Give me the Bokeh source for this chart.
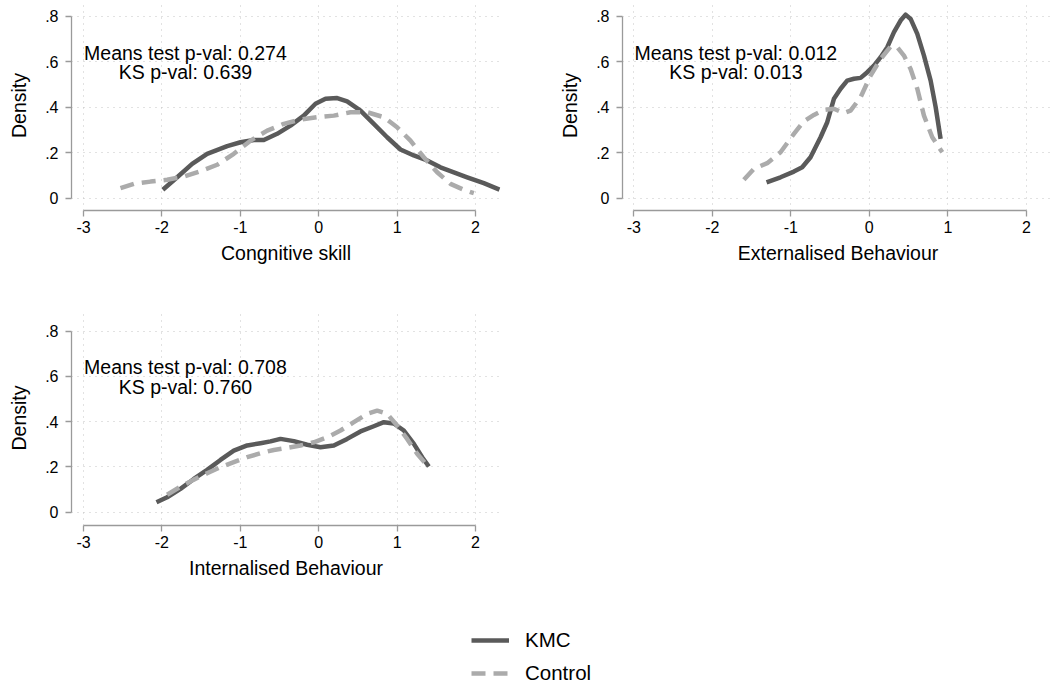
from bokeh.plotting import figure
from bokeh.layouts import column, row
from bokeh.models import FixedTicker, Label, Legend, LegendItem, Range1d
from bokeh.embed import file_html
from bokeh.resources import INLINE

FONT = "Liberation Sans"

# ---------------- data ----------------
x_ticks = [-3, -2, -1, 0, 1, 2]
x_tick_labels = ["-3", "-2", "-1", "0", "1", "2"]
y_ticks = [0, 0.2, 0.4, 0.6, 0.8]
y_tick_labels = ["0", ".2", ".4", ".6", ".8"]

series_names = ["KMC", "Control"]
panel_titles = ["Congnitive skill", "Externalised Behaviour", "Internalised Behaviour"]
means_pvals = ["0.274", "0.012", "0.708"]
ks_pvals = ["0.639", "0.013", "0.760"]

cog_kmc_x = [-1.988, -1.805, -1.614, -1.423, -1.167, -0.997, -0.827, -0.70, -0.53, -0.36, -0.19, -0.041,
             0.087, 0.236, 0.363, 0.533, 0.703, 0.873, 1.043, 1.213, 1.383, 1.553, 1.724, 1.894, 2.106, 2.306]
cog_kmc_y = [0.037, 0.092, 0.151, 0.195, 0.229, 0.246, 0.256, 0.256, 0.283, 0.319, 0.363, 0.415,
             0.437, 0.440, 0.426, 0.385, 0.327, 0.268, 0.214, 0.188, 0.166, 0.136, 0.114, 0.092, 0.066, 0.038]
cog_ctl_x = [-2.528, -2.358, -2.145, -1.933, -1.720, -1.508, -1.295, -1.083, -0.870, -0.657, -0.445, -0.232,
             -0.020, 0.193, 0.406, 0.618, 0.831, 1.0, 1.171, 1.341, 1.511, 1.681, 1.851, 1.979]
cog_ctl_y = [0.044, 0.063, 0.073, 0.081, 0.095, 0.119, 0.147, 0.195, 0.253, 0.297, 0.327, 0.346,
             0.356, 0.363, 0.378, 0.378, 0.356, 0.312, 0.253, 0.180, 0.114, 0.063, 0.037, 0.022]

ext_kmc_x = [-1.309, -1.131, -0.961, -0.855, -0.749, -0.621, -0.536, -0.451, -0.366, -0.282, -0.196, -0.111,
             -0.026, 0.059, 0.144, 0.229, 0.314, 0.398, 0.462, 0.526, 0.611, 0.696, 0.781, 0.845, 0.908]
ext_kmc_y = [0.070, 0.092, 0.117, 0.136, 0.180, 0.268, 0.334, 0.437, 0.481, 0.517, 0.525, 0.529,
             0.554, 0.583, 0.620, 0.664, 0.730, 0.781, 0.807, 0.788, 0.722, 0.627, 0.517, 0.400, 0.261]
ext_ctl_x = [-1.598, -1.471, -1.301, -1.131, -0.961, -0.834, -0.706, -0.579, -0.451, -0.324, -0.239, -0.111,
             0.016, 0.144, 0.271, 0.356, 0.441, 0.526, 0.611, 0.696, 0.802, 0.929]
ext_ctl_y = [0.081, 0.129, 0.154, 0.202, 0.283, 0.338, 0.366, 0.388, 0.393, 0.374, 0.385, 0.444,
             0.539, 0.612, 0.667, 0.664, 0.627, 0.568, 0.481, 0.363, 0.268, 0.202]

int_kmc_x = [-2.069, -1.933, -1.763, -1.593, -1.423, -1.253, -1.083, -0.912, -0.742, -0.615, -0.487, -0.317,
             -0.147, 0.023, 0.193, 0.363, 0.533, 0.703, 0.831, 0.958, 1.086, 1.214, 1.320, 1.405]
int_kmc_y = [0.044, 0.066, 0.103, 0.147, 0.187, 0.231, 0.272, 0.295, 0.305, 0.313, 0.324, 0.314,
             0.298, 0.287, 0.295, 0.324, 0.357, 0.380, 0.398, 0.392, 0.361, 0.302, 0.243, 0.202]
int_ctl_x = [-1.933, -1.763, -1.593, -1.423, -1.253, -1.083, -0.912, -0.742, -0.572, -0.402, -0.232, -0.062,
             0.108, 0.278, 0.448, 0.618, 0.746, 0.873, 1.0, 1.128, 1.256, 1.384]
int_ctl_y = [0.077, 0.113, 0.144, 0.172, 0.199, 0.221, 0.243, 0.261, 0.275, 0.284, 0.295, 0.309,
             0.331, 0.361, 0.398, 0.435, 0.449, 0.435, 0.383, 0.324, 0.258, 0.206]

# ---------------- styles ----------------
KMC_COLOR = "#5a5a5a"
CTL_COLOR = "#ababab"
AXIS_COLOR = "#9a9a9a"
GRID_COLOR = "#c4c4c4"
LINE_W = 4.5
DASH = "14 8"


def make_panel(kx, ky, cx, cy, title, mp, kp, x_range, y_range, frame_w, frame_h,
               b_left, b_right, b_top, b_bottom):
    p = figure(frame_width=frame_w, frame_height=frame_h,
               x_range=Range1d(*x_range), y_range=Range1d(*y_range),
               toolbar_location=None, output_backend="svg",
               min_border_left=b_left, min_border_right=b_right,
               min_border_top=b_top, min_border_bottom=b_bottom)
    p.outline_line_color = None
    p.background_fill_color = "white"

    xa = p.xaxis[0]
    xa.ticker = FixedTicker(ticks=x_ticks)
    xa.major_label_overrides = {t: l for t, l in zip(x_ticks, x_tick_labels)}
    xa.bounds = (x_ticks[0], x_ticks[-1])
    xa.axis_label = title
    ya = p.yaxis[0]
    ya.ticker = FixedTicker(ticks=y_ticks)
    ya.major_label_overrides = {t: l for t, l in zip(y_ticks, y_tick_labels)}
    ya.bounds = (y_ticks[0], y_ticks[-1])
    ya.axis_label = "Density"
    ya.major_label_orientation = "horizontal"

    for ax in (xa, ya):
        ax.axis_line_color = AXIS_COLOR
        ax.axis_line_width = 1.3
        ax.major_tick_line_color = AXIS_COLOR
        ax.major_tick_line_width = 1.3
        ax.major_tick_in = 0
        ax.major_tick_out = 6
        ax.minor_tick_line_color = None
        ax.major_label_text_font = FONT
        ax.major_label_text_font_size = "16px"
        ax.major_label_text_color = "black"
        ax.axis_label_text_font = FONT
        ax.axis_label_text_font_size = "19.5px"
        ax.axis_label_text_font_style = "normal"
        ax.axis_label_text_color = "black"
    xa.major_label_standoff = 4
    xa.axis_label_standoff = 6
    ya.major_label_standoff = 7
    ya.axis_label_standoff = 12

    for g in (p.xgrid[0], p.ygrid[0]):
        g.grid_line_color = GRID_COLOR
        g.grid_line_dash = "1 5"
        g.grid_line_width = 1
    p.xgrid[0].ticker = FixedTicker(ticks=x_ticks)
    p.ygrid[0].ticker = FixedTicker(ticks=y_ticks)

    p.line(kx, ky, line_color=KMC_COLOR, line_width=LINE_W, line_join="round")
    p.line(cx, cy, line_color=CTL_COLOR, line_width=LINE_W, line_dash=DASH)

    p.add_layout(Label(x=-1.70, y=0.64, text="Means test p-val: " + mp, text_align="center",
                       text_baseline="middle", text_font=FONT, text_font_size="19.5px",
                       text_color="black"))
    p.add_layout(Label(x=-1.70, y=0.553, text="KS p-val: " + kp, text_align="center",
                       text_baseline="middle", text_font=FONT, text_font_size="19.5px",
                       text_color="black"))
    return p


p1 = make_panel(cog_kmc_x, cog_kmc_y, cog_ctl_x, cog_ctl_y, panel_titles[0], means_pvals[0], ks_pvals[0],
                (-3.153, 2.319), (-0.054, 0.869), 429, 210, 71, 51, 0, 70)
p2 = make_panel(ext_kmc_x, ext_kmc_y, ext_ctl_x, ext_ctl_y, panel_titles[1], means_pvals[1], ks_pvals[1],
                (-3.144, 2.346), (-0.054, 0.869), 431, 210, 71, 0, 0, 70)
p3 = make_panel(int_kmc_x, int_kmc_y, int_ctl_x, int_ctl_y, panel_titles[2], means_pvals[2], ks_pvals[2],
                (-3.153, 2.319), (-0.0588, 0.8915), 429, 215, 71, 51, 30, 75)

# legend strip (dummy renderers lie outside the visible ranges; only the legend shows)
pl = figure(width=1053, height=88, x_range=Range1d(100, 101), y_range=Range1d(100, 101),
            toolbar_location=None, output_backend="svg",
            x_axis_location=None, y_axis_location=None,
            min_border_left=0, min_border_right=0, min_border_top=0, min_border_bottom=0)
pl.grid.visible = False
pl.outline_line_color = None
lk = pl.line(cog_kmc_x, cog_kmc_y, line_color=KMC_COLOR, line_width=LINE_W)
lc = pl.line(cog_ctl_x, cog_ctl_y, line_color=CTL_COLOR, line_width=LINE_W, line_dash=DASH)
leg = Legend(items=[LegendItem(label=series_names[0], renderers=[lk]),
                    LegendItem(label=series_names[1], renderers=[lc])],
             location=(400, 3), orientation="vertical",
             glyph_width=38, glyph_height=22, label_height=22, spacing=9,
             label_standoff=16, padding=0, margin=0,
             label_text_font=FONT, label_text_font_size="20.5px", label_text_color="black",
             border_line_color=None, background_fill_alpha=0)
pl.add_layout(leg, "center")

layout = column(row(p1, p2), p3, pl)

open("out.html", "w").write(file_html(layout, INLINE))
